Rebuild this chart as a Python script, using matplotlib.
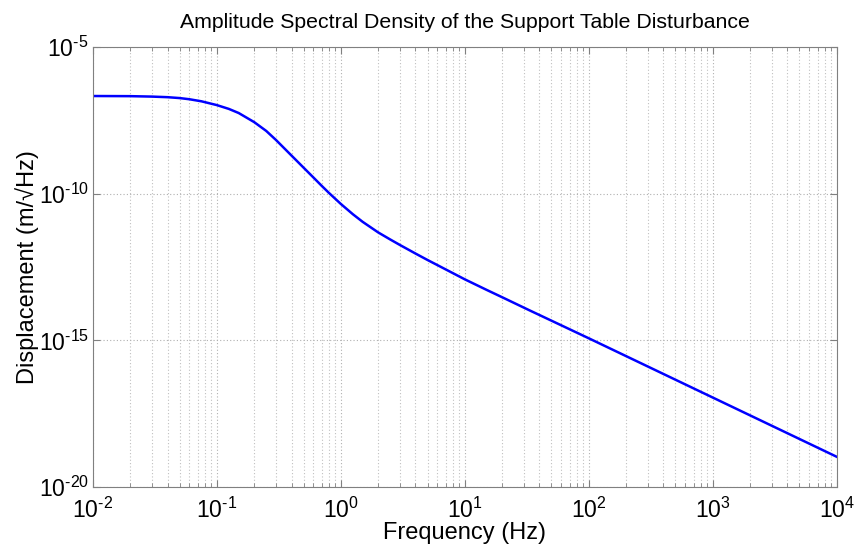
import numpy as np
import matplotlib
matplotlib.use("Agg")
import matplotlib.pyplot as plt
from matplotlib.ticker import LogLocator, NullLocator, NullFormatter

plt.rcParams["font.family"] = ["Liberation Sans", "DejaVu Sans"]
plt.rcParams["mathtext.fontset"] = "custom"
plt.rcParams["mathtext.rm"] = "Liberation Sans"
plt.rcParams["mathtext.it"] = "Liberation Sans:italic"

# frequency (Hz) and log10 of the ASD (m/sqrt(Hz))
freq_hz = [0.01, 0.02, 0.03, 0.04, 0.05, 0.06, 0.075, 0.1, 0.125, 0.15,
           0.2, 0.25, 0.3, 0.4, 0.5, 0.6, 0.7, 0.8, 1.0, 1.25, 1.5, 2.0,
           2.5, 3.0, 4.0, 5.0, 7.0, 10.0, 15.0, 20.0, 33.0, 100.0, 1000.0,
           10000.0]
log_asd = [-6.67, -6.675, -6.69, -6.71, -6.74, -6.78, -6.85, -6.98, -7.11,
           -7.25, -7.56, -7.86, -8.17, -8.70, -9.11, -9.445, -9.73, -9.97,
           -10.35, -10.70, -10.96, -11.32, -11.56, -11.75, -12.04, -12.26,
           -12.58, -12.92, -13.28, -13.53, -13.97, -14.93, -16.95, -18.97]

x_ticks = [1e-2, 1e-1, 1e0, 1e1, 1e2, 1e3, 1e4]
x_exps = ["-2", "-1", "0", "1", "2", "3", "4"]
y_ticks = [1e-20, 1e-15, 1e-10, 1e-5]
y_exps = ["-20", "-15", "-10", "-5"]

asd = 10.0 ** np.array(log_asd)


def pow_label(e):
    return r"$\mathregular{10^{\text{" + e + "}}}$"


fig = plt.figure(figsize=(8.6, 5.5), dpi=100)
ax = fig.add_axes([0.108, 0.1145, 0.865, 0.80])

ax.loglog(freq_hz, asd, color="#0000ff", linewidth=1.8)

ax.set_xlim(1e-2, 1e4)
ax.set_ylim(1e-20, 1e-5)

ax.set_xticks(x_ticks)
ax.set_xticklabels([pow_label(e) for e in x_exps])
ax.xaxis.set_minor_locator(LogLocator(base=10, subs=np.arange(2, 10), numticks=20))
ax.xaxis.set_minor_formatter(NullFormatter())
ax.set_yticks(y_ticks)
ax.set_yticklabels([pow_label(e) for e in y_exps])
ax.yaxis.set_minor_locator(NullLocator())

ax.grid(True, which="major", axis="both", linestyle=(0, (1, 2)), color="#b0b0b0", linewidth=0.8)
ax.grid(True, which="minor", axis="x", linestyle=(0, (1, 2)), color="#c0c0c0", linewidth=0.8)

for s in ax.spines.values():
    s.set_color("#808080")
    s.set_linewidth(0.8)

ax.tick_params(which="both", direction="in", top=True, right=True, color="#808080")
ax.tick_params(which="major", length=5, labelsize=16.5, labelcolor="black")
ax.tick_params(axis="x", which="major", pad=8)
ax.tick_params(axis="y", which="major", pad=3)
ax.tick_params(which="minor", length=3)

ax.set_title("Amplitude Spectral Density of the Support Table Disturbance", fontsize=15.3, pad=14)
ax.set_xlabel("Frequency (Hz)", fontsize=17, labelpad=-1)
ax.set_ylabel("Displacement (m/\u221aHz)", fontsize=17, labelpad=0)

fig.savefig("out.png", dpi=100)
